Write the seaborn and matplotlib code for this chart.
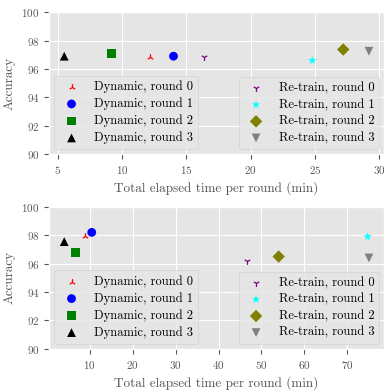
import matplotlib
matplotlib.use("Agg")
import matplotlib.pyplot as plt
import seaborn as sns

plt.style.use("ggplot")
plt.rcParams["font.family"] = ["cmr10", "DejaVu Serif"]
plt.rcParams["mathtext.fontset"] = "cm"
plt.rcParams["axes.formatter.use_mathtext"] = True

# series labels / styles
labels = ["Dynamic, round 0", "Dynamic, round 1", "Dynamic, round 2", "Dynamic, round 3",
          "Re-train, round 0", "Re-train, round 1", "Re-train, round 2", "Re-train, round 3"]
markers = ["2", "o", "s", "^", "1", "*", "D", "v"]
colors = ["red", "blue", "green", "black", "purple", "cyan", "olive", "gray"]

# top panel values (time in min, accuracy)
time_top = [12.2, 14.0, 9.2, 5.5, 16.4, 24.8, 27.2, 29.2]
acc_top = [96.85, 96.9, 97.1, 96.9, 96.83, 96.6, 97.37, 97.25]

# bottom panel values
time_bot = [9.0, 10.5, 6.7, 4.1, 46.7, 74.7, 54.0, 75.0]
acc_bot = [97.97, 98.2, 96.8, 97.55, 96.2, 97.9, 96.5, 96.4]

fig, axes = plt.subplots(2, 1, figsize=(3.92, 3.92), dpi=100)

for ax, xs, ys in [(axes[0], time_top, acc_top), (axes[1], time_bot, acc_bot)]:
    for i in range(len(labels)):
        if markers[i] in ("1", "2"):
            sns.scatterplot(x=[xs[i]], y=[ys[i]], marker=markers[i], color=colors[i],
                            s=24, linewidth=0.9, label=labels[i], ax=ax)
        else:
            sns.scatterplot(x=[xs[i]], y=[ys[i]], marker=markers[i], color=colors[i],
                            s=40, edgecolor="none", label=labels[i], ax=ax)
    ax.set_ylim(90, 100)
    ax.set_yticks([90, 92, 94, 96, 98, 100])
    ax.set_xlabel("Total elapsed time per round (min)", fontsize=9.5)
    ax.set_ylabel("Accuracy", fontsize=9.5)
    ax.tick_params(labelsize=8)
    handles, labs = ax.get_legend_handles_labels()
    leg1 = ax.legend(handles[:4], labs[:4], loc="lower left", fontsize=9,
                     labelspacing=0.35, borderaxespad=0.4)
    ax.add_artist(leg1)
    ax.legend(handles[4:], labs[4:], loc="lower right", fontsize=9,
              labelspacing=0.35, borderaxespad=0.4)

axes[0].set_xticks([5, 10, 15, 20, 25, 30])
axes[1].set_xticks([10, 20, 30, 40, 50, 60, 70])

plt.subplots_adjust(left=0.125, right=0.98, top=0.969, bottom=0.11, hspace=0.37)
plt.savefig("out.png", dpi=100)
